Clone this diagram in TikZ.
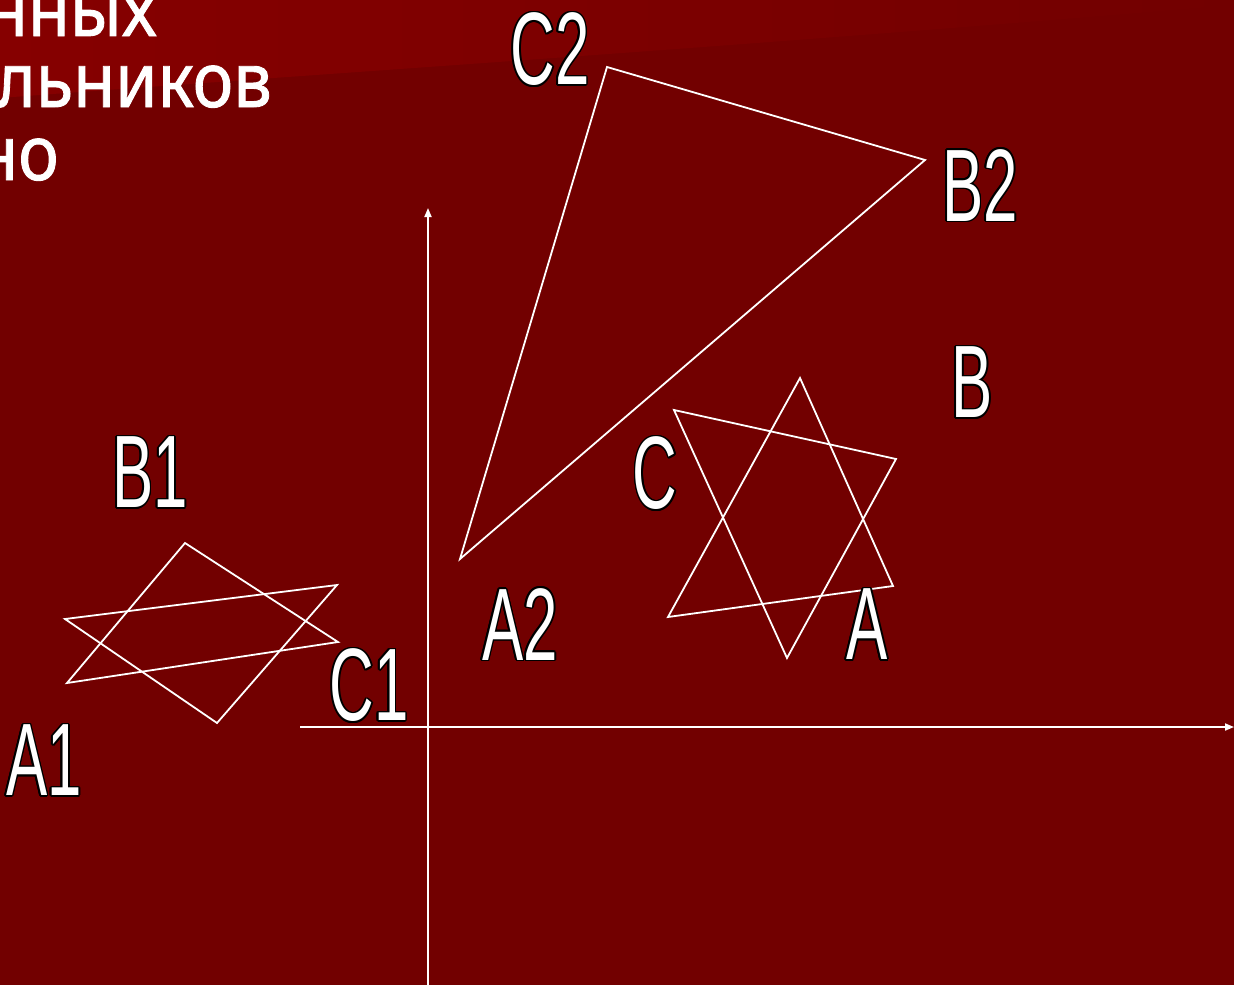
\documentclass[tikz,border=0pt]{standalone}
\usepackage{fontspec}
\setmainfont{Liberation Sans}
\newfontfamily\titlefont[FakeBold=1.2]{Noto Sans}
\usepackage{contour}
\contourlength{1.6pt}
\usetikzlibrary{arrows.meta}
\definecolor{bgdark}{HTML}{720000}
\definecolor{bglight}{HTML}{860000}
\tikzset{
  edge/.style={draw=white, line width=1.8pt, line join=miter},
  axis/.style={draw=white, line width=1.8pt, -{Triangle[length=9pt,width=7pt]}},
  lbl/.style={text=white, inner sep=0pt, font=\fontsize{103}{103}\selectfont},
  ttl/.style={text=white, inner sep=0pt, anchor=base east, font=\titlefont\fontsize{76}{76}\selectfont}
}
\newcommand{\narrowlbl}[1]{\contour{black}{\scalebox{0.6}[1]{#1}}}
\newcommand{\ttltext}[1]{\scalebox{0.9}[1]{#1}}
\begin{document}
\begin{tikzpicture}[x=1pt,y=-1pt]
\useasboundingbox (0,0) rectangle (1234,985);
\clip (0,0) rectangle (1234,985);
\fill[bgdark] (0,0) rectangle (1234,985);
\shade[left color=bglight, right color=bgdark] (0,0) -- (0,98) .. controls (300,75) and (700,50) .. (1234,5) -- (1234,0) -- cycle;

% title fragments
\node[ttl] (t1) at (157,36) {\ttltext{нных}};
\node[ttl] (t2) at (272,107) {\ttltext{льников}};
\node[ttl] (t3) at (59,180) {\ttltext{но}};

% axes
\coordinate (O) at (428,727);
\coordinate (xl) at (300,727);
\coordinate (xr) at (1234,727);
\coordinate (yb) at (428,985);
\coordinate (yt) at (428,208);
\draw[axis] (xl) -- (xr);
\draw[axis] (yb) -- (yt);

% big triangle
\coordinate (vA2) at (460,559);
\coordinate (vB2) at (925,160);
\coordinate (vC2) at (607,67);
\draw[edge] (vA2) -- (vB2) -- (vC2) -- cycle;

% left pair of triangles
\coordinate (p1) at (185,543);
\coordinate (p2) at (338,642);
\coordinate (p3) at (67,683);
\coordinate (q1) at (65,619);
\coordinate (q2) at (337,585);
\coordinate (q3) at (217,723);
\draw[edge] (p1) -- (p2) -- (p3) -- cycle;
\draw[edge] (q1) -- (q2) -- (q3) -- cycle;

% right pair of triangles
\coordinate (r1) at (800,378);
\coordinate (r2) at (893,586);
\coordinate (r3) at (668,617);
\coordinate (s1) at (674,410);
\coordinate (s2) at (896,459);
\coordinate (s3) at (787,658);
\draw[edge] (r1) -- (r2) -- (r3) -- cycle;
\draw[edge] (s1) -- (s2) -- (s3) -- cycle;

% labels
\node[lbl] (lC2) at (550,50) {\narrowlbl{C2}};
\node[lbl] (lB2) at (980,186) {\narrowlbl{B2}};
\node[lbl] (lB) at (972,383) {\narrowlbl{B}};
\node[lbl] (lC) at (655,474) {\narrowlbl{C}};
\node[lbl] (lA) at (867,625) {\narrowlbl{A}};
\node[lbl] (lA2) at (520,625) {\narrowlbl{A2}};
\node[lbl] (lB1) at (150,473) {\narrowlbl{B1}};
\node[lbl] (lC1) at (369,686) {\narrowlbl{C1}};
\node[lbl] (lA1) at (44,761) {\narrowlbl{A1}};
\end{tikzpicture}
\end{document}
